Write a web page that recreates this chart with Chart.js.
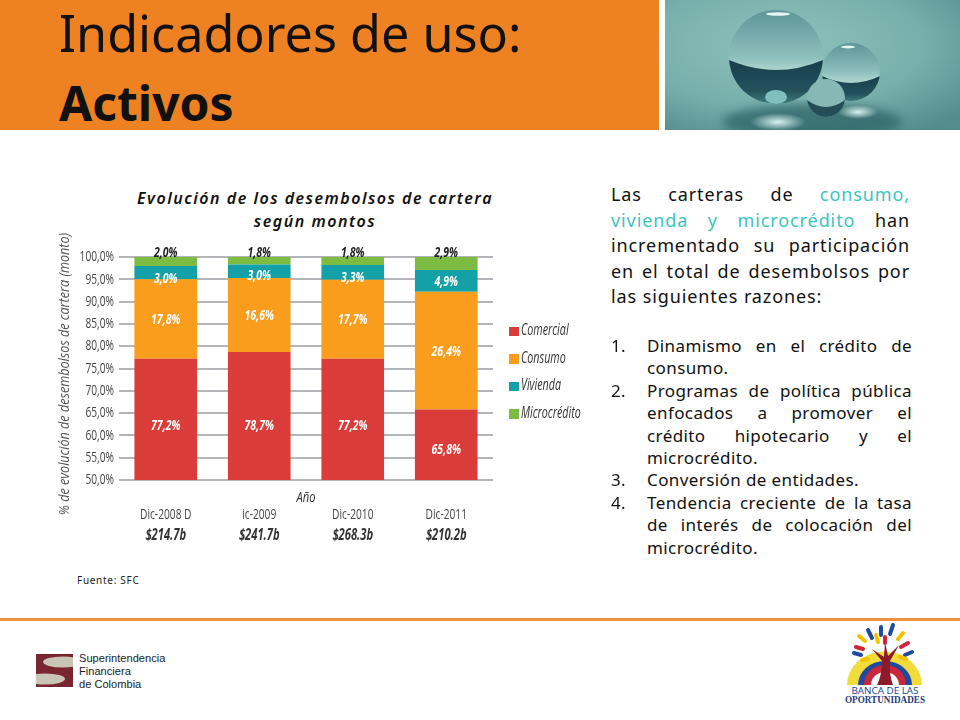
<!DOCTYPE html>
<html lang="es">
<head>
<meta charset="utf-8">
<title>Indicadores de uso: Activos</title>
<script src="https://cdn.jsdelivr.net/npm/chart.js@4/dist/chart.umd.min.js"></script>
<style>
  html, body { margin: 0; padding: 0; background: #fff; }
  body { position: relative; width: 960px; height: 720px; overflow: hidden; font-family: 'Noto Sans', sans-serif; color: #111; }
  .abs { position: absolute; }
  #band { left: 0; top: 0; width: 659px; height: 130px; background: #ee8122; }
  #head { left: 59px; top: -2px; font-size: 50.3px; line-height: 70px; color: #111; white-space: nowrap; }
  #head b { display: block; font-size: 48px; }
  #photo { left: 665px; top: 0; }
  #chartTitle { left: 95px; top: 187px; width: 440px; text-align: center; font: italic 600 16px/23px 'Noto Sans', sans-serif; letter-spacing: 1.5px; }
  #wrap { left: 50px; top: 225px; width: 530px; height: 345px; }
  #legend { left: 509px; top: 316px; }
  #legend div { height: 27.5px; white-space: nowrap; font: italic 16px/27.5px 'Open Sans', sans-serif; color: #333; }
  #legend i { display: inline-block; width: 9.5px; height: 9.5px; margin-right: 2px; vertical-align: -1px; }
  #legend span { display: inline-block; transform: scaleX(.67); transform-origin: left center; }
  #source { left: 77px; top: 573px; font-size: 10px; line-height: 14px; letter-spacing: .7px; color: #222; }
  #intro { left: 611px; top: 182px; width: 299px; font-size: 18px; line-height: 25.5px; letter-spacing: .9px; }
  #intro div, #reasons div { text-align: justify; text-align-last: justify; white-space: nowrap; }
  #intro div.end, #reasons div.end { text-align-last: left; }
  #intro span { color: #3cc4c0; }
  #reasons { left: 647px; top: 335px; width: 265px; font-size: 17px; line-height: 22.4px; letter-spacing: .4px; }
  #reasons em { position: absolute; left: -36px; font-style: normal; }
  #rule { left: 0; top: 618px; width: 960px; height: 3px; background: #ee9040; }
  #sfc { left: 79px; top: 652px; font: 11.1px/13px 'Liberation Sans', sans-serif; color: #222; }
  #sfcMark { left: 36px; top: 654px; }
  #bancaMark { left: 835px; top: 622px; }
</style>
</head>
<body>
<div class="abs" id="band"></div>
<div class="abs" id="head">Indicadores de uso:<b>Activos</b></div>

<svg class="abs" id="photo" width="295" height="130" viewBox="665 0 295 130">
  <defs>
    <radialGradient id="bg" cx=".4" cy=".35" r=".8">
      <stop offset="0" stop-color="#8fc2bd"/><stop offset=".6" stop-color="#78aeab"/><stop offset="1" stop-color="#568b8d"/>
    </radialGradient>
    <linearGradient id="ballTop" x1="0" y1="0" x2="0" y2="1">
      <stop offset="0" stop-color="#5f9598"/><stop offset=".5" stop-color="#8dbfbc"/><stop offset=".62" stop-color="#a9d1cb"/>
    </linearGradient>
    <linearGradient id="ballLow" x1="0" y1="0" x2="0" y2="1">
      <stop offset="0" stop-color="#173f4b"/><stop offset=".7" stop-color="#24525c"/><stop offset="1" stop-color="#3f7c80"/>
    </linearGradient>
    <radialGradient id="glow"><stop offset="0" stop-color="#d8f3ef"/><stop offset="1" stop-color="#d8f3ef" stop-opacity="0"/></radialGradient>
    <filter id="soft"><feGaussianBlur stdDeviation="5"/></filter>
    <clipPath id="c1"><circle cx="776" cy="57" r="47"/></clipPath>
    <clipPath id="c2"><circle cx="851" cy="72" r="29"/></clipPath>
    <clipPath id="c3"><circle cx="826" cy="98" r="19"/></clipPath>
  </defs>
  <rect x="665" y="0" width="295" height="130" fill="url(#bg)"/>
  <ellipse cx="812" cy="122" rx="90" ry="18" fill="#2f6468" opacity=".75" filter="url(#soft)"/>
  <ellipse cx="778" cy="122" rx="28" ry="9" fill="url(#glow)"/>
  <ellipse cx="858" cy="112" rx="20" ry="7" fill="url(#glow)"/>
  <g clip-path="url(#c1)">
    <rect x="729" y="10" width="94" height="94" fill="url(#ballTop)"/>
    <path d="M729 60q47 20 94 0v44h-94z" fill="url(#ballLow)"/>
    <ellipse cx="776" cy="97" rx="11" ry="7" fill="#7fc0bf"/>
  </g>
  <ellipse cx="778" cy="14" rx="12" ry="1.8" fill="#e4f5f2"/>
  <g clip-path="url(#c2)">
    <rect x="822" y="43" width="58" height="58" fill="url(#ballTop)"/>
    <path d="M822 76q29 14 58 0v26h-58z" fill="url(#ballLow)"/>
  </g>
  <ellipse cx="848" cy="47" rx="7" ry="1.5" fill="#e4f5f2"/>
  <g clip-path="url(#c3)">
    <rect x="807" y="79" width="38" height="38" fill="#86b8b6"/>
    <path d="M807 100q19 14 38 0v18h-38z" fill="#234e58"/>
  </g>
</svg>

<div class="abs" id="chartTitle">Evolución de los desembolsos de cartera<br>según montos</div>
<div class="abs" id="wrap"><canvas id="shareChart" width="530" height="345"></canvas></div>
<div class="abs" id="legend"></div>
<div class="abs" id="source">Fuente: SFC</div>

<div class="abs" id="intro">
  <div>Las carteras de <span>consumo,</span></div>
  <div><span>vivienda y microcrédito</span> han</div>
  <div>incrementado su participación</div>
  <div>en el total de desembolsos por</div>
  <div class="end">las siguientes razones:</div>
</div>
<div class="abs" id="reasons">
  <div><em>1.</em>Dinamismo en el crédito de</div>
  <div class="end">consumo.</div>
  <div><em>2.</em>Programas de política pública</div>
  <div>enfocados a promover el</div>
  <div>crédito hipotecario y el</div>
  <div class="end">microcrédito.</div>
  <div class="end"><em>3.</em>Conversión de entidades.</div>
  <div><em>4.</em>Tendencia creciente de la tasa</div>
  <div>de interés de colocación del</div>
  <div class="end">microcrédito.</div>
</div>

<div class="abs" id="rule"></div>

<svg class="abs" id="sfcMark" width="37" height="33" viewBox="0 0 37 33">
  <rect width="37" height="33" fill="#7a2630"/>
  <ellipse cx="27" cy="8" rx="20" ry="5.5" fill="#c9c6b8"/>
  <ellipse cx="9" cy="25" rx="20" ry="5.5" fill="#c9c6b8"/>
</svg>
<div class="abs" id="sfc">Superintendencia<br>Financiera<br>de Colombia</div>

<svg class="abs" id="bancaMark" width="100" height="90" viewBox="0 0 100 90">
  <path d="M12 63a37 33 0 0 1 75 0z" fill="#f2dc3c"/>
  <path d="M23 63a27 24 0 0 1 54 0z" fill="#1f4aa0"/>
  <path d="M29 63a21 20 0 0 1 42 0z" fill="#c9283a"/>
  <path d="M36 63a14 13 0 0 1 28 0z" fill="#fff"/>
  <path d="M42 63q5-10 5-24l-10-12 12 8 1-15 3 14 11-11-9 16q-1 14 3 24z" fill="#8b1a2b"/>
  <g stroke-width="4" stroke-linecap="round" fill="none">
    <path d="M46 5v8M33 8l4 8M58 3l-3 9" stroke="#1f4aa0"/>
    <path d="M24 14l6 5M68 11l-5 6M41 13l2 7" stroke="#f2c400"/>
    <path d="M50 15v6M21 25l7 2M73 21l-7 4" stroke="#c9283a"/>
    <path d="M19 31l7 2M77 30l-7 3" stroke="#1f4aa0"/>
    <path d="M27 38l6-1M71 37l-6-2" stroke="#f2c400"/>
  </g>
  <text x="50" y="72" text-anchor="middle" font-family="Open Sans" font-size="9" fill="#24408e" textLength="67" lengthAdjust="spacingAndGlyphs">BANCA DE LAS</text>
  <text x="50" y="81" text-anchor="middle" font-family="Liberation Serif" font-weight="bold" font-size="10" fill="#1f3a7a" textLength="80" lengthAdjust="spacingAndGlyphs">OPORTUNIDADES</text>
</svg>

<script>
const categories = ['Dic-2008 D', 'ic-2009', 'Dic-2010', 'Dic-2011'];
const amounts = ['$214.7b', '$241.7b', '$268.3b', '$210.2b'];
const comercial = [77.2, 78.7, 77.2, 65.8];
const consumo = [17.8, 16.6, 17.7, 26.4];
const vivienda = [3.0, 3.0, 3.3, 4.9];
const microcredito = [2.0, 1.8, 1.8, 2.9];
const yTicks = [50, 55, 60, 65, 70, 75, 80, 85, 90, 95, 100];

const face = "'Open Sans', sans-serif";
const pct = v => v.toFixed(1).replace('.', ',') + '%';

// no condensed face is installed, so canvas text gets squeezed horizontally
function squeezed(ctx, text, x, y, sx) {
  ctx.save();
  ctx.translate(x, y);
  ctx.scale(sx, 1);
  ctx.fillText(text, 0, 0);
  ctx.restore();
}

// labels sit a little off centre in the original, so each series gets its own nudge
const nudges = [[6, 10, 6, 5], [1, 1, 1, 1], [6, 4, 5, 1], null];

const segmentLabels = {
  id: 'segmentLabels',
  afterDatasetsDraw(chart) {
    const { ctx, chartArea } = chart;
    ctx.save();
    ctx.textAlign = 'center';
    ctx.textBaseline = 'middle';
    ctx.font = `italic bold 15px ${face}`;
    chart.data.datasets.forEach((ds, i) => {
      chart.getDatasetMeta(i).data.forEach((bar, j) => {
        const top = Math.max(bar.y, chartArea.top);
        const bottom = Math.min(bar.base, chartArea.bottom);
        const y = nudges[i] ? (top + bottom) / 2 + nudges[i][j] : top - 4;
        ctx.fillStyle = nudges[i] ? '#fff' : '#222';
        squeezed(ctx, pct(ds.data[j]), bar.x, y, 0.7);
      });
    });
    ctx.restore();
  }
};

const axisText = {
  id: 'axisText',
  afterDraw(chart) {
    const { ctx, chartArea, scales } = chart;
    ctx.save();
    ctx.textBaseline = 'middle';
    ctx.fillStyle = '#444';
    ctx.textAlign = 'right';
    ctx.font = `15px ${face}`;
    scales.y.ticks.forEach((t, i) => {
      // squeeze from the right edge so the labels stay flush with the grid
      squeezed(ctx, pct(t.value), chartArea.left - 5, scales.y.getPixelForTick(i), 0.68);
    });
    ctx.textAlign = 'center';
    ctx.font = `15px ${face}`;
    categories.forEach((c, i) => squeezed(ctx, c, scales.x.getPixelForTick(i), chartArea.bottom + 35, 0.68));
    ctx.fillStyle = '#333';
    ctx.font = `italic bold 16px ${face}`;
    amounts.forEach((a, i) => squeezed(ctx, a, scales.x.getPixelForTick(i), chartArea.bottom + 55, 0.7));
    ctx.font = `italic 14px ${face}`;
    squeezed(ctx, 'Año', (chartArea.left + chartArea.right) / 2, chartArea.bottom + 18, 0.8);
    ctx.translate(15, chartArea.top + 117);
    ctx.rotate(-Math.PI / 2);
    ctx.font = `italic 15px ${face}`;
    ctx.fillStyle = '#555';
    squeezed(ctx, '% de evolución de desembolsos de cartera (monto)', 0, 0, 0.84);
    ctx.restore();
  }
};

const chart = new Chart(document.getElementById('shareChart'), {
  type: 'bar',
  data: {
    labels: categories,
    datasets: [
      { label: 'Comercial', data: comercial, backgroundColor: '#da3d39' },
      { label: 'Consumo', data: consumo, backgroundColor: '#fa9d1d' },
      { label: 'Vivienda', data: vivienda, backgroundColor: '#13a0a6' },
      { label: 'Microcrédito', data: microcredito, backgroundColor: '#7cbc42' }
    ]
  },
  options: {
    responsive: false,
    animation: false,
    layout: { padding: { top: 32, right: 87, left: 0, bottom: 0 } },
    datasets: { bar: { categoryPercentage: 1, barPercentage: 0.67 } },
    plugins: { legend: { display: false }, title: { display: false }, tooltip: { enabled: false } },
    scales: {
      x: {
        stacked: true,
        grid: { display: false },
        border: { display: false },
        ticks: { display: false },
        afterFit(scale) { scale.height = 90; scale.paddingLeft = 0; scale.paddingRight = 0; }
      },
      y: {
        stacked: true,
        min: 50,
        max: 100,
        afterBuildTicks(scale) { scale.ticks = yTicks.map(value => ({ value })); },
        grid: { color: '#b4b5b9', lineWidth: 2, drawTicks: false },
        border: { display: false },
        ticks: { display: false },
        afterFit(scale) { scale.width = 69; scale.paddingTop = 0; scale.paddingBottom = 0; }
      }
    }
  },
  plugins: [segmentLabels, axisText]
});

// legend rows come from the datasets, the gap between swatch and text is too tight for the built-in one
const legendBox = document.getElementById('legend');
chart.data.datasets.forEach(ds => {
  const row = document.createElement('div');
  const swatch = document.createElement('i');
  const name = document.createElement('span');
  swatch.style.background = ds.backgroundColor;
  name.textContent = ds.label;
  row.append(swatch, name);
  legendBox.append(row);
});
</script>
</body>
</html>
